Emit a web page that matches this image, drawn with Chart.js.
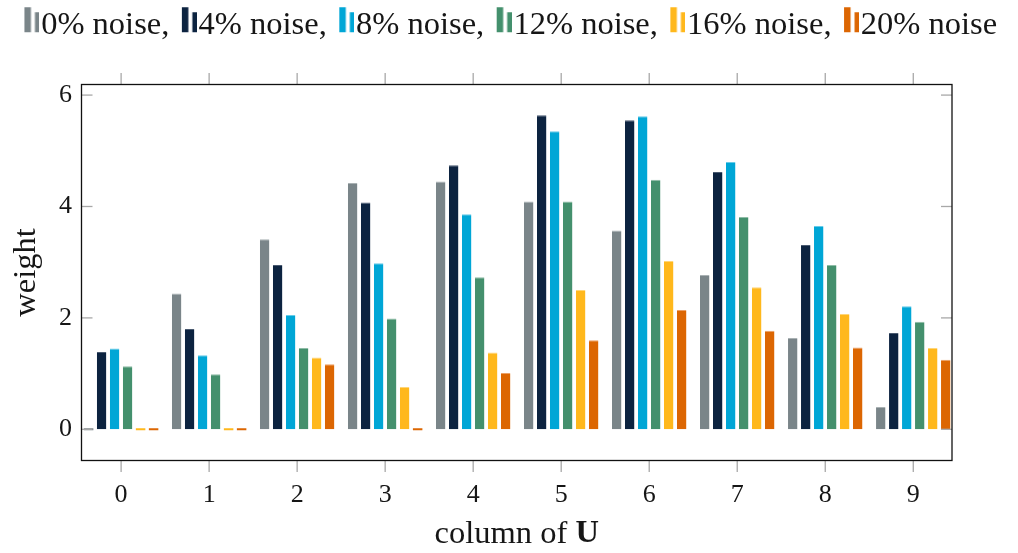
<!DOCTYPE html>
<html><head><meta charset="utf-8">
<script src="https://cdn.jsdelivr.net/npm/chart.js@4/dist/chart.umd.min.js"></script>
<style>html,body{margin:0;padding:0;background:#fff;}#wrap{width:1018px;height:553px;position:relative;}</style>
</head><body><div id="wrap"><canvas id="c"></canvas></div>
<script>
// ---- data ----
const categories = [0, 1, 2, 3, 4, 5, 6, 7, 8, 9];
const seriesLabels = ['0% noise,', '4% noise,', '8% noise,', '12% noise,', '16% noise,', '20% noise'];
const noise0  = [0.00, 2.44, 3.41, 4.42, 4.45, 4.09, 3.57, 2.77, 1.64, 0.40];
const noise4  = [1.39, 1.80, 2.95, 4.07, 4.74, 5.64, 5.55, 4.62, 3.31, 1.73];
const noise8  = [1.45, 1.33, 2.05, 2.98, 3.86, 5.35, 5.62, 4.80, 3.65, 2.21];
const noise12 = [1.13, 0.99, 1.46, 1.99, 2.73, 4.09, 4.48, 3.81, 2.95, 1.93];
const noise16 = [0.00, 0.00, 1.29, 0.76, 1.38, 2.50, 3.02, 2.55, 2.07, 1.46];
const noise20 = [0.00, 0.00, 1.17, 0.00, 1.01, 1.60, 2.14, 1.77, 1.47, 1.25];
const yTicks = [0, 2, 4, 6];

// ---- styles ----
const seriesValues = [noise0, noise4, noise8, noise12, noise16, noise20];
const colors = ['#7a8589', '#0c2340', '#00a6d6', '#44906d', '#ffb81c', '#dc6602'];
const edgeColors = ['#a9b1b3', '#4a5a70', '#66cbe8', '#8ebca6', '#ffd577', '#eba066'];
const FONT = "'Liberation Serif', 'Times New Roman', serif";
const TXT = '#161616';
const LEGEND_H = 84.5;
const LEG_SIZE = 32.5;
const TITLE_SIZE = 32.5;
const TICK_SIZE = 26;

function makeIcon(color) {
  const W = 33, H = 40;
  const c = document.createElement('canvas');
  c.width = W; c.height = H;
  const g = c.getContext('2d');
  g.fillStyle = color;
  g.fillRect(W - 15, 2, 6.5, 25);
  g.fillRect(W - 4.5, 7, 4.5, 20);
  return c;
}
const icons = colors.map(makeIcon);

const datasets = seriesValues.map((vals, i) => ({
  label: seriesLabels[i],
  data: vals.map((v, j) => ({ x: categories[j], y: v })),
  backgroundColor: colors[i],
  borderColor: edgeColors[i],
  borderWidth: { top: 1, left: 0, right: 0, bottom: 0 },
  borderSkipped: 'start',
  minBarLength: 2,
  categoryPercentage: 0.886,
  barPercentage: 0.73
}));

const decor = {
  id: 'decor',
  beforeLayout(chart) {
    const lg = chart.legend;
    if (lg && !lg.__w) {
      const f = lg.fit.bind(lg);
      lg.fit = function () { f(); this.height = LEGEND_H; };
      lg.__w = true;
    }
  },
  afterDraw(chart) {
    const { ctx, chartArea: a, scales: { x, y } } = chart;
    ctx.save();
    const line = (x1, y1, x2, y2) => { ctx.beginPath(); ctx.moveTo(x1, y1); ctx.lineTo(x2, y2); ctx.stroke(); };
    ctx.strokeStyle = '#a8a8a8'; ctx.lineWidth = 1.3;
    yTicks.forEach(v => {
      const py = y.getPixelForValue(v);
      line(a.left, py, a.left + 11, py);
      line(a.right - 11, py, a.right, py);
    });
    categories.forEach(c => {
      const px = x.getPixelForValue(c);
      line(px, a.bottom, px, a.bottom + 11.5);
      line(px, a.top - 11.5, px, a.top);
    });
    ctx.strokeStyle = '#111'; ctx.lineWidth = 1.3;
    ctx.strokeRect(a.left, a.top, a.right - a.left, a.bottom - a.top);
    // x axis title with bold U
    const t1 = 'column of ', t2 = 'U';
    ctx.fillStyle = TXT; ctx.textBaseline = 'middle'; ctx.textAlign = 'left';
    ctx.font = TITLE_SIZE + 'px ' + FONT; const w1 = ctx.measureText(t1).width;
    ctx.font = 'bold ' + TITLE_SIZE + 'px ' + FONT; const w2 = ctx.measureText(t2).width;
    const cx = (a.left + a.right) / 2, ty = 534;
    const sx = cx - (w1 + w2) / 2;
    ctx.font = TITLE_SIZE + 'px ' + FONT; ctx.fillText(t1, sx, ty);
    ctx.font = 'bold ' + TITLE_SIZE + 'px ' + FONT; ctx.fillText(t2, sx + w1, ty);
    ctx.restore();
  }
};

new Chart(document.getElementById('c'), {
  type: 'bar',
  data: { datasets },
  plugins: [decor],
  options: {
    responsive: true,
    maintainAspectRatio: false,
    animation: false,
    devicePixelRatio: 1,
    events: [],
    layout: { padding: 0 },
    plugins: {
      tooltip: { enabled: false },
      legend: {
        position: 'top',
        labels: {
          usePointStyle: true,
          pointStyleWidth: 4,
          padding: 9,
          color: TXT,
          font: { family: FONT, size: LEG_SIZE },
          generateLabels(chart) {
            return Chart.defaults.plugins.legend.labels.generateLabels(chart)
              .map((l, i) => Object.assign(l, { pointStyle: icons[i] }));
          }
        }
      }
    },
    scales: {
      x: {
        type: 'linear', min: -0.45, max: 9.44, offset: false,
        afterBuildTicks(s) { s.ticks = categories.map(v => ({ value: v })); },
        afterFit(s) { s.height = 92.5; },
        grid: { display: false, drawTicks: false },
        border: { display: false },
        ticks: { padding: 19, color: TXT, font: { family: FONT, size: TICK_SIZE }, maxRotation: 0, autoSkip: false,
                 callback: v => String(v) }
      },
      y: {
        min: -0.56, max: 6.19,
        afterBuildTicks(s) { s.ticks = yTicks.map(v => ({ value: v })); },
        afterFit(s) { s.width = 81.5; },
        grid: { display: false, drawTicks: false },
        border: { display: false },
        ticks: { padding: 9.5, color: TXT, font: { family: FONT, size: TICK_SIZE } },
        title: { display: true, text: 'weight', color: TXT, font: { family: FONT, size: TITLE_SIZE }, padding: { top: 6.5, bottom: 0 } }
      },
      yRight: {
        position: 'right', display: true, min: 0, max: 1,
        afterFit(s) { s.width = 66; },
        grid: { display: false, drawTicks: false },
        border: { display: false },
        ticks: { display: false }
      }
    }
  }
});
</script>
</body></html>
